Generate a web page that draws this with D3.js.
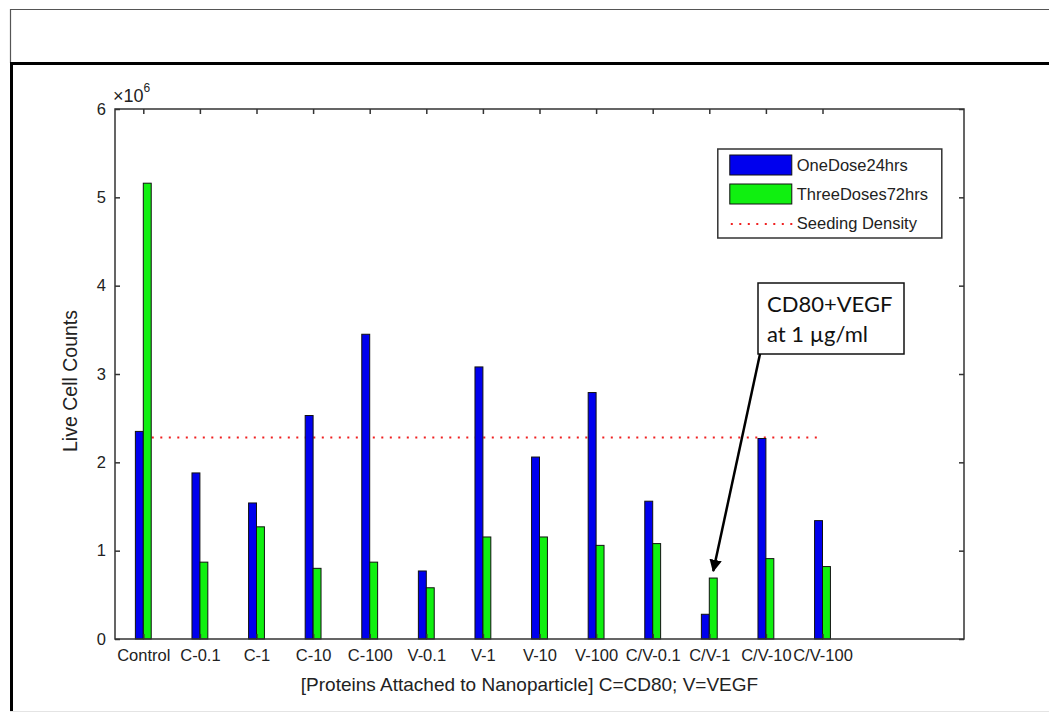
<!DOCTYPE html>
<html>
<head>
<meta charset="utf-8">
<script src="https://cdn.jsdelivr.net/npm/d3@7"></script>
<style>
  body { margin: 0; background: #fff; }
  svg { display: block; }
  svg text { font-family: "Liberation Sans", Arial, sans-serif; }
</style>
</head>
<body>
<div id="vis"></div>
<script>
// chart data (values in cells)
var categories = ["Control", "C-0.1", "C-1", "C-10", "C-100", "V-0.1", "V-1", "V-10", "V-100",
                  "C/V-0.1", "C/V-1", "C/V-10", "C/V-100"];
var oneDose24hrs = [2.35e6, 1.88e6, 1.54e6, 2.53e6, 3.45e6, 0.77e6, 3.08e6, 2.06e6, 2.79e6,
                    1.56e6, 0.28e6, 2.27e6, 1.34e6];
var threeDoses72hrs = [5.16e6, 0.87e6, 1.27e6, 0.80e6, 0.87e6, 0.58e6, 1.155e6, 1.155e6, 1.06e6,
                       1.08e6, 0.69e6, 0.91e6, 0.82e6];
var seedingDensity = 2.28e6;
var yTicks = [0, 1e6, 2e6, 3e6, 4e6, 5e6, 6e6];
var seriesNames = ["OneDose24hrs", "ThreeDoses72hrs", "Seeding Density"];

var W = 1049, H = 713;
var theMargins = { top: 109, right: 85, bottom: 74, left: 115 };
var width = W - theMargins.left - theMargins.right;
var height = H - theMargins.top - theMargins.bottom;

var blue = "#0000ee", green = "#10f010", axisColor = "#333";

var x = d3.scaleLinear().domain([0.5, 15.5]).range([0, width]);
var y = d3.scaleLinear().domain([0, 6e6]).range([height, 0]);
var barW = x(0.14) - x(0);

var svg = d3.select("#vis").append("svg")
    .attr("width", W)
    .attr("height", H);

// slide frame around the figure
var frame = svg.append("g");
frame.append("line").attr("x1", 10).attr("x2", W).attr("y1", 9.5).attr("y2", 9.5)
    .attr("stroke", "#555").attr("stroke-width", 1.2);
frame.append("line").attr("x1", 10.5).attr("x2", 10.5).attr("y1", 9).attr("y2", 63)
    .attr("stroke", "#555").attr("stroke-width", 1.2);
frame.append("line").attr("x1", 10).attr("x2", W).attr("y1", 63.5).attr("y2", 63.5)
    .attr("stroke", "#000").attr("stroke-width", 3);
frame.append("line").attr("x1", 11.5).attr("x2", 11.5).attr("y1", 62).attr("y2", 711)
    .attr("stroke", "#000").attr("stroke-width", 3);
frame.append("line").attr("x1", 10).attr("x2", W).attr("y1", 711.5).attr("y2", 711.5)
    .attr("stroke", "#e4e4e4").attr("stroke-width", 1);

var vis = svg.append("g")
    .attr("transform", "translate(" + theMargins.left + "," + theMargins.top + ")");

// seeding density line sits behind the bars
vis.append("line")
    .attr("x1", x(1)).attr("x2", x(categories.length))
    .attr("y1", y(seedingDensity)).attr("y2", y(seedingDensity))
    .attr("stroke", "#f02020").attr("stroke-width", 2)
    .attr("stroke-dasharray", "2,6.5");

// bars
var idx = d3.range(categories.length);
vis.selectAll(".b1").data(idx).enter().append("rect")
    .attr("class", "b1")
    .attr("x", function(i) { return x(i + 1) - barW; })
    .attr("y", function(i) { return y(oneDose24hrs[i]); })
    .attr("width", barW)
    .attr("height", function(i) { return y(0) - y(oneDose24hrs[i]); })
    .attr("fill", blue).attr("stroke", "#111").attr("stroke-width", 1);
vis.selectAll(".b2").data(idx).enter().append("rect")
    .attr("class", "b2")
    .attr("x", function(i) { return x(i + 1); })
    .attr("y", function(i) { return y(threeDoses72hrs[i]); })
    .attr("width", barW)
    .attr("height", function(i) { return y(0) - y(threeDoses72hrs[i]); })
    .attr("fill", green).attr("stroke", "#111").attr("stroke-width", 1);

// axes (matlab style box with inward ticks)
var xVals = idx.map(function(i) { return i + 1; });
var xAxis = d3.axisBottom(x).tickValues(xVals)
    .tickFormat(function(d) { return categories[d - 1]; })
    .tickSize(-5).tickPadding(10);
var xTop = d3.axisTop(x).tickValues(xVals).tickFormat("").tickSize(-5);
var yAxis = d3.axisLeft(y).tickValues(yTicks)
    .tickFormat(function(d) { return d / 1e6; })
    .tickSize(-5).tickPadding(9);
var yRight = d3.axisRight(y).tickValues(yTicks).tickFormat("").tickSize(-5);

function styleAxis(g) {
    g.attr("font-family", null);
    g.select(".domain").remove();
    g.selectAll("line").attr("stroke", axisColor).attr("stroke-width", 1.5);
    g.selectAll("text").attr("fill", "#222").style("font-size", "16.5px");
}
vis.append("g").attr("transform", "translate(0," + height + ")").call(xAxis).call(styleAxis);
vis.append("g").call(xTop).call(styleAxis);
vis.append("g").call(yAxis).call(styleAxis);
vis.append("g").attr("transform", "translate(" + width + ",0)").call(yRight).call(styleAxis);

vis.append("rect")
    .attr("x", 0).attr("y", 0).attr("width", width).attr("height", height)
    .attr("fill", "none").attr("stroke", axisColor).attr("stroke-width", 1.5);

// exponent label
var expo = vis.append("text").attr("x", -2).attr("y", -7)
    .attr("fill", "#222").style("font-size", "18px");
expo.append("tspan").text("\u00d710");
expo.append("tspan").attr("dy", -10).style("font-size", "12px").text("6");

// axis titles
vis.append("text")
    .attr("transform", "translate(-38," + (height / 2 + 7) + ") rotate(-90)")
    .attr("text-anchor", "middle")
    .attr("fill", "#222").style("font-size", "19.5px")
    .text("Live Cell Counts");
vis.append("text")
    .attr("x", width / 2 - 10).attr("y", height + 52)
    .attr("text-anchor", "middle")
    .attr("fill", "#222").style("font-size", "19px")
    .text("[Proteins Attached to Nanoparticle] C=CD80; V=VEGF");

// legend
var legend = vis.append("g").attr("transform", "translate(" + x(11.15) + ",40)");
legend.append("rect")
    .attr("x", 0).attr("y", 0).attr("width", 224).attr("height", 89)
    .attr("fill", "#fff").attr("stroke", axisColor).attr("stroke-width", 1.5);
var swatchColors = [blue, green];
seriesNames.forEach(function(name, i) {
    var cy = 16 + i * 29;
    if (i < 2) {
        legend.append("rect")
            .attr("x", 12).attr("y", cy - 10).attr("width", 62).attr("height", 20)
            .attr("fill", swatchColors[i]).attr("stroke", "#111").attr("stroke-width", 1);
    } else {
        legend.append("line")
            .attr("x1", 13).attr("x2", 76).attr("y1", cy + 1).attr("y2", cy + 1)
            .attr("stroke", "#f02020").attr("stroke-width", 2)
            .attr("stroke-dasharray", "2,6.5");
    }
    legend.append("text")
        .attr("x", 79).attr("y", cy + 6)
        .attr("fill", "#222").style("font-size", "16.5px")
        .text(name);
});

// annotation callout
var note = vis.append("g");
note.append("rect")
    .attr("x", 643).attr("y", 174).attr("width", 146).attr("height", 71)
    .attr("fill", "#fff").attr("stroke", "#111").attr("stroke-width", 1.5);
note.append("text").attr("x", 652).attr("y", 203)
    .attr("fill", "#111").style("font-family", "Lato, 'Open Sans', sans-serif").style("font-size", "22px")
    .text("CD80+VEGF");
note.append("text").attr("x", 652).attr("y", 233)
    .attr("fill", "#111").style("font-family", "Lato, 'Open Sans', sans-serif").style("font-size", "22px")
    .text("at 1 \u00b5g/ml");

svg.append("defs").append("marker")
    .attr("id", "arrow").attr("viewBox", "0 0 10 10")
    .attr("refX", 9).attr("refY", 5)
    .attr("markerWidth", 5).attr("markerHeight", 5)
    .attr("orient", "auto")
    .append("path").attr("d", "M0,0 L10,5 L0,10 Z").attr("fill", "#000");

var tipX = x(11) + barW / 2, tipY = y(threeDoses72hrs[10]) - 7;
note.append("line")
    .attr("x1", 645).attr("y1", 245)
    .attr("x2", tipX).attr("y2", tipY)
    .attr("stroke", "#000").attr("stroke-width", 2.5)
    .attr("marker-end", "url(#arrow)");
</script>
</body>
</html>
